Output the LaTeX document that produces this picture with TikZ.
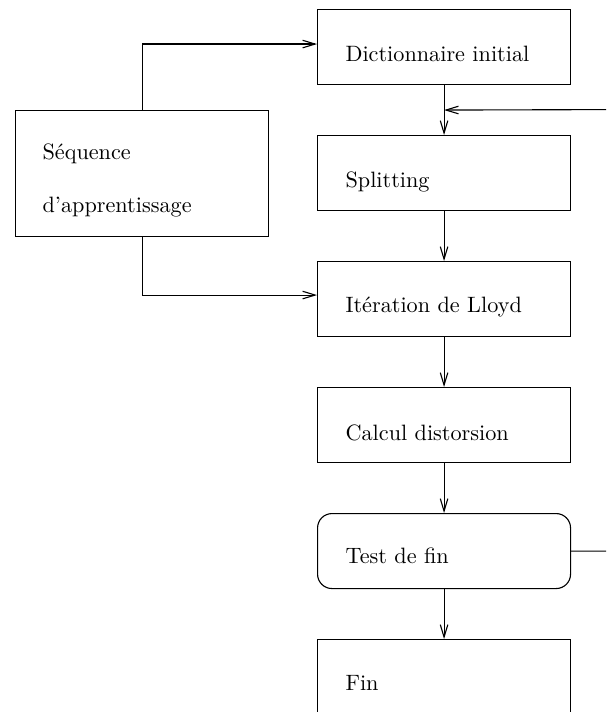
\documentclass[tikz,border=0pt]{standalone}
\usetikzlibrary{arrows.meta,calc}
\begin{document}
\begin{tikzpicture}[x=0.45pt,y=-0.45pt,line width=0.5pt,
  box/.style={draw,rectangle,minimum width=113.85pt,minimum height=33.75pt,inner sep=0pt,anchor=north west},
  rbox/.style={box,rounded corners=6.5pt},
  lbl/.style={anchor=base west,inner sep=0pt,font=\fontsize{10}{12}\selectfont},
  arr/.style={-{Straight Barb[length=5.6pt,width=3.4pt]}}]
\useasboundingbox (0,0) rectangle (606,712);
\clip (0,0) rectangle (606,712);
\node[box] (dict) at (317,9) {};
\node[box] (split) at (317,135) {};
\node[box] (iter) at (317,261) {};
\node[box] (calc) at (317,387) {};
\node[rbox] (test) at (317,513) {};
\node[box] (fin) at (317,639) {};
\node[box,minimum height=56.7pt] (seq) at (15,110) {};
\node[lbl] (tdict) at (345,62) {Dictionnaire initial};
\node[lbl] (tsplit) at (345,187) {Splitting};
\node[lbl] (titer) at (345,312) {Itération de Lloyd};
\node[lbl] (tcalc) at (345,440) {Calcul distorsion};
\node[lbl] (ttest) at (345,563) {Test de fin};
\node[lbl] (tfin) at (345,690) {Fin};
\node[lbl] (tseq1) at (42,160) {Séquence};
\node[lbl] (tseq2) at (42,212) {d'apprentissage};
\draw[arr] (dict) -- (split);
\draw[arr] (split) -- (iter);
\draw[arr] (iter) -- (calc);
\draw[arr] (calc) -- (test);
\draw[arr] (test) -- (fin);
\draw[arr] (seq.north) |- ($(dict.west)+(0,-3)$);
\draw[arr] (seq.south) |- ($(iter.west)+(0,-4)$);
\coordinate (fb) at ($(dict.south)!0.5!(split.north)$);
\coordinate (fbr) at (640,109.5);
\draw[arr] (test.east) -| (fbr) -- (fb);
\end{tikzpicture}
\end{document}
